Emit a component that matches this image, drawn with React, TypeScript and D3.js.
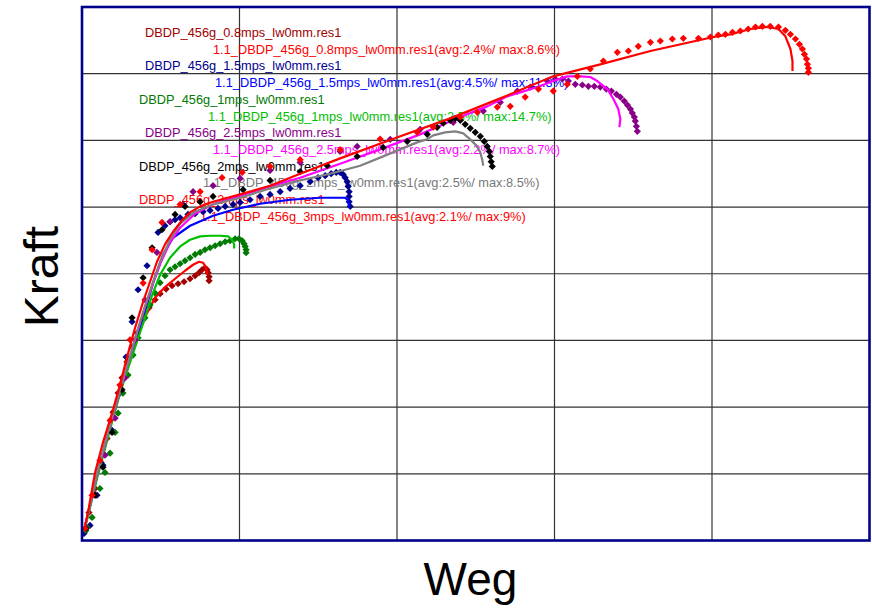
import React from "react";
import * as d3 from "d3";

type Pt = [number, number];

// ---- data (Weg vs Kraft, arbitrary units) ----
const xTicks = [10, 20, 30, 40];
const yTicks = [10, 20, 30, 40, 50, 60, 70];

const meas08: Pt[] = [[0.13,1.2],[0.44,4.2],[0.83,7.8],[1.21,11.7],[1.59,15.3],[1.97,19.25],[2.29,22.1],[2.54,24.4],[2.86,26.8],[3.18,29.0],[3.49,31.1],[3.88,33.1],[4.26,34.9],[4.64,36.1],[4.96,37.0],[5.34,37.7],[5.72,38.2],[6.1,38.5],[6.48,38.8],[6.86,39.25],[7.18,39.7],[7.43,40.15],[7.62,40.6],[7.81,40.9],[7.94,40.6],[8.01,40.15],[8.07,39.55],[8.07,38.95]];
const sim08: Pt[] = [[0.13,1.5],[0.51,5.3],[0.95,9.8],[1.46,14.3],[1.97,18.8],[2.54,23.3],[3.05,27.4],[3.56,30.8],[4.07,33.8],[4.64,36.4],[5.27,38.0],[5.91,39.25],[6.54,40.45],[7.05,41.35],[7.43,41.8],[7.69,41.65],[7.88,40.9],[7.94,39.85]];
const meas15: Pt[] = [[0.13,1.05],[0.51,2.26],[0.95,6.8],[1.33,11.3],[1.91,16.5],[2.41,22.1],[2.8,27.5],[3.18,32.8],[3.56,37.6],[4.13,41.2],[4.83,46.2],[5.27,47.2],[5.59,47.8],[5.91,48.1],[6.23,48.4],[6.73,48.9],[7.18,49.0],[7.69,49.3],[8.13,49.5],[8.64,49.8],[9.09,50.1],[9.59,50.4],[10.04,50.7],[10.67,51.1],[11.31,51.6],[11.94,51.9],[12.58,52.3],[13.21,52.8],[13.85,53.2],[14.49,53.8],[14.99,54.4],[15.44,54.7],[15.82,55.0],[16.14,55.2],[16.39,55.2],[16.58,54.9],[16.71,54.4],[16.84,53.8],[16.9,53.1],[16.96,52.3],[16.96,51.6],[16.96,50.8],[17.03,50.1]];
const sim15: Pt[] = [[0.13,1.5],[0.51,5.1],[0.95,9.6],[1.46,14.1],[1.97,18.65],[2.48,22.9],[2.99,26.8],[3.49,30.4],[4.0,34.3],[4.51,38.65],[5.15,42.9],[5.78,45.4],[6.86,47.2],[8.32,48.7],[9.59,49.6],[11.31,50.5],[13.21,51.1],[15.12,51.4],[16.71,51.4],[16.9,51.0],[16.96,49.9]];
const meas1: Pt[] = [[0.25,1.5],[0.32,1.95],[0.64,3.46],[1.14,7.8],[1.46,10.2],[1.78,13.1],[2.1,16.2],[2.29,19.1],[2.6,22.1],[2.92,24.8],[3.24,27.8],[3.56,30.4],[4.0,33.4],[4.32,35.3],[4.64,37.1],[4.96,38.65],[5.27,39.7],[5.59,40.6],[5.91,41.05],[6.23,41.5],[6.54,41.95],[6.86,42.4],[7.18,42.9],[7.5,43.2],[7.81,43.6],[8.13,43.9],[8.45,44.2],[8.77,44.5],[9.09,44.8],[9.4,44.95],[9.72,45.25],[9.97,45.25],[10.17,44.95],[10.29,44.5],[10.36,44.1],[10.42,43.6],[10.42,43.15]];
const sim1: Pt[] = [[0.13,1.35],[0.51,4.96],[0.95,9.3],[1.46,13.8],[1.97,18.35],[2.48,22.6],[2.99,26.3],[3.49,29.8],[4.0,33.4],[4.45,36.8],[4.96,39.85],[5.59,42.4],[6.23,44.1],[6.86,45.1],[7.5,45.6],[8.13,45.7],[8.77,45.7],[9.28,45.6],[9.53,45.1],[9.66,44.4],[9.66,43.8]];
const meas25: Pt[] = [[0.25,1.8],[0.83,6.8],[1.46,12.8],[2.1,18.35],[2.73,24.4],[3.37,30.1],[4.0,36.1],[4.76,43.2],[5.59,47.8],[6.42,50.4],[7.05,52.3],[8.32,53.2],[10.04,54.3],[11.94,55.5],[13.85,56.7],[16.39,58.35],[17.47,59.1],[19.57,60.15],[21.47,61.65],[23.57,62.7],[25.48,64.4],[26.56,65.7],[27.64,67.4],[28.46,68.0],[29.54,68.9],[30.05,69.2],[30.5,69.2],[30.88,68.9],[31.32,68.4],[31.77,68.3],[32.15,68.1],[32.53,68.1],[32.91,68.0],[33.29,67.7],[33.61,67.4],[33.93,66.9],[34.18,66.5],[34.43,65.9],[34.63,65.3],[34.82,64.7],[34.94,64.1],[35.07,63.5],[35.13,62.9],[35.2,62.1],[35.26,61.35]];
const sim25: Pt[] = [[0.13,1.5],[0.51,5.3],[0.95,9.9],[1.46,14.4],[1.97,18.8],[2.48,23.0],[2.99,27.1],[3.49,31.1],[4.0,35.0],[4.51,38.5],[5.02,41.8],[5.59,44.7],[6.23,46.9],[7.18,49.0],[8.32,50.4],[10.04,51.7],[11.94,53.1],[13.85,54.4],[16.39,56.5],[18.93,58.65],[21.47,60.9],[24.02,63.5],[25.73,65.1],[27.0,66.6],[27.83,67.2],[28.91,68.0],[29.92,68.9],[30.81,69.6],[31.64,69.6],[32.27,69.5],[32.72,68.9],[33.35,67.7],[33.74,66.2],[34.05,64.7],[34.18,63.2],[34.12,62.0]];
const meas2: Pt[] = [[0.25,1.8],[0.83,6.8],[1.33,11.0],[1.91,16.2],[2.54,22.6],[3.18,33.4],[3.88,39.4],[4.45,43.9],[5.08,46.6],[5.91,48.9],[6.54,50.1],[7.5,50.8],[8.32,51.6],[10.23,52.6],[11.94,54.0],[13.85,55.3],[15.57,56.2],[17.47,57.6],[19.12,58.95],[20.65,59.85],[21.92,60.9],[22.55,61.95],[22.94,62.6],[23.38,63.0],[23.7,63.3],[24.02,63.0],[24.33,62.4],[24.65,61.8],[24.97,61.2],[25.29,60.6],[25.54,59.85],[25.73,59.1],[25.86,58.35],[25.92,57.6],[25.98,56.8],[26.05,56.1]];
const sim2: Pt[] = [[0.13,1.5],[0.51,5.3],[0.95,10.1],[1.46,14.6],[1.97,18.95],[2.48,23.2],[2.99,27.2],[3.49,31.3],[4.0,35.2],[4.45,38.35],[4.96,41.8],[5.59,45.1],[6.23,47.5],[7.18,49.3],[8.32,50.4],[10.04,51.4],[11.94,52.8],[13.85,54.0],[15.76,55.0],[17.66,56.2],[19.12,57.6],[20.2,58.65],[21.28,59.7],[21.9,60.15],[22.3,60.75],[23.06,61.2],[23.7,61.35],[24.21,61.05],[24.65,60.15],[25.03,59.25],[25.29,58.2],[25.41,57.1],[25.48,56.2]];
const meas3: Pt[] = [[0.19,1.8],[0.64,6.8],[1.14,12.0],[1.78,18.0],[2.41,23.3],[3.05,30.1],[3.88,38.6],[4.45,43.6],[5.08,47.7],[6.23,50.4],[7.5,52.3],[8.89,54.4],[10.17,55.2],[11.94,56.1],[13.85,57.1],[16.39,58.6],[18.93,60.2],[21.28,61.2],[22.3,62.0],[24.02,63.5],[25.1,64.2],[26.37,65.0],[27.19,65.1],[28.14,66.5],[28.98,67.7],[29.92,67.4],[30.81,68.4],[31.45,69.6],[32.27,70.7],[33.1,71.9],[33.99,73.2],[34.69,73.4],[35.32,74.1],[36.09,74.7],[36.72,74.9],[37.48,75.2],[38.18,75.3],[39.14,75.3],[39.9,75.5],[40.4,75.8],[40.85,75.9],[41.3,76.2],[41.8,76.4],[42.3,76.7],[42.76,77.0],[43.2,77.1],[43.7,77.1],[44.22,77.0],[44.66,76.5],[44.98,75.9],[45.3,75.2],[45.55,74.4],[45.74,73.7],[45.87,72.9],[46.0,72.2],[46.06,71.4],[46.12,70.8],[46.12,70.2]];
const sim3: Pt[] = [[0.13,1.5],[0.38,4.2],[0.83,10.2],[1.33,14.7],[1.91,19.1],[2.41,23.3],[2.86,27.5],[3.37,31.9],[3.88,35.8],[4.32,38.8],[4.76,41.8],[5.27,44.4],[5.78,46.3],[6.35,48.0],[6.86,49.2],[7.5,50.1],[8.32,50.8],[10.04,51.9],[11.94,53.2],[13.85,55.0],[16.39,57.3],[20.08,60.5],[23.38,63.3],[26.56,66.3],[29.92,69.6],[32.91,71.4],[36.09,73.4],[40.09,75.5],[41.17,75.9],[42.44,76.7],[43.52,77.0],[44.22,76.7],[44.66,75.6],[44.98,73.7],[45.11,71.9],[45.11,70.4]];

const legendLabels = [
  "DBDP_456g_0.8mps_lw0mm.res1",
  "1.1_DBDP_456g_0.8mps_lw0mm.res1(avg:2.4%/ max:8.6%)",
  "DBDP_456g_1.5mps_lw0mm.res1",
  "1.1_DBDP_456g_1.5mps_lw0mm.res1(avg:4.5%/ max:11.3%)",
  "DBDP_456g_1mps_lw0mm.res1",
  "1.1_DBDP_456g_1mps_lw0mm.res1(avg:2.5%/ max:14.7%)",
  "DBDP_456g_2.5mps_lw0mm.res1",
  "1.1_DBDP_456g_2.5mps_lw0mm.res1(avg:2.2%/ max:8.7%)",
  "DBDP_456g_2mps_lw0mm.res1",
  "1.1_DBDP_456g_2mps_lw0mm.res1(avg:2.5%/ max:8.5%)",
  "DBDP_456g_3mps_lw0mm.res1",
  "1.1_DBDP_456g_3mps_lw0mm.res1(avg:2.1%/ max:9%)",
];

// ---- styling / layout ----
const seriesDefs = [
  { data: meas08, color: "#A00000", kind: "m" },
  { data: sim08, color: "#FF0000", kind: "l" },
  { data: meas15, color: "#000090", kind: "m" },
  { data: sim15, color: "#0000FF", kind: "l" },
  { data: meas1, color: "#007A00", kind: "m" },
  { data: sim1, color: "#00C000", kind: "l" },
  { data: meas25, color: "#880088", kind: "m" },
  { data: sim25, color: "#FF00FF", kind: "l" },
  { data: meas2, color: "#000000", kind: "m" },
  { data: sim2, color: "#808080", kind: "l" },
  { data: meas3, color: "#FF0000", kind: "m" },
  { data: sim3, color: "#FF0000", kind: "l" },
];
const legendColors = ["#A00000", "#FF0000", "#000090", "#0000FF", "#007A00", "#00C000", "#880088", "#FF00FF", "#000000", "#787878", "#FF0000", "#FF0000"];
const legendX = [145, 213, 145, 215, 139, 208, 145, 213, 139, 203, 139, 200];

const W = 872, H = 609;
const left = 82, right = 869.5, top = 7, bottom = 540.5;
const FONT = "'Liberation Sans', Arial, sans-serif";
const DIAMOND = "M0,-3.6L3.6,0L0,3.6L-3.6,0Z";

export default function App() {
  const x = d3.scaleLinear().domain([0, 50]).range([left, right]);
  const y = d3.scaleLinear().domain([0, 80]).range([bottom, top]);
  const line = d3.line<Pt>().x((d) => x(d[0])).y((d) => y(d[1]));

  return (
    <svg width={W} height={H} style={{ position: "absolute", left: 0, top: 0, background: "#fff" }}>
      <defs>
        <clipPath id="plotclip">
          <rect x={left} y={top} width={right - left} height={bottom - top} />
        </clipPath>
      </defs>
      <rect x={left} y={top} width={right - left} height={bottom - top} fill="#fff" />
      {xTicks.map((t) => (
        <line key={"gx" + t} x1={x(t)} x2={x(t)} y1={top} y2={bottom} stroke="#333" strokeWidth={1.2} />
      ))}
      {yTicks.map((t) => (
        <line key={"gy" + t} x1={left} x2={right} y1={y(t)} y2={y(t)} stroke="#333" strokeWidth={1.2} />
      ))}
      {legendLabels.map((s, i) => (
        <text key={"lg" + i} x={legendX[i]} y={37 + i * 16.7} fill={legendColors[i]} fontFamily={FONT} fontSize={12.8}>
          {s}
        </text>
      ))}
      <g clipPath="url(#plotclip)">
        {seriesDefs.map((s, i) =>
          s.kind === "l" ? (
            <path key={"s" + i} d={line(s.data) || ""} fill="none" stroke={s.color} strokeWidth={2.2} strokeLinejoin="round" />
          ) : (
            <g key={"s" + i} fill={s.color}>
              {s.data.map((d, j) => (
                <path key={j} d={DIAMOND} transform={`translate(${x(d[0])},${y(d[1])})`} />
              ))}
            </g>
          )
        )}
      </g>
      <rect x={left} y={top} width={right - left} height={bottom - top} fill="none" stroke="#00008B" strokeWidth={2.6} />
      <text x={470.5} y={595} textAnchor="middle" fontFamily={FONT} fontSize={46} fill="#000">
        Weg
      </text>
      <text transform="translate(58,276.5) rotate(-90)" textAnchor="middle" fontFamily={FONT} fontSize={48} fill="#000">
        Kraft
      </text>
    </svg>
  );
}
